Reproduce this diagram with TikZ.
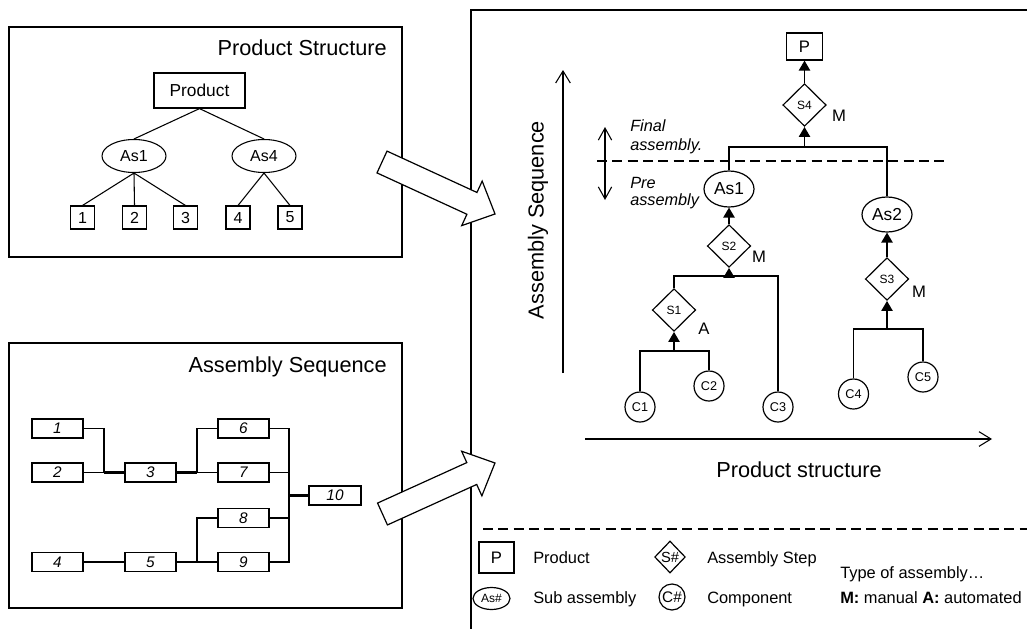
\documentclass[tikz,border=0pt]{standalone}
\usepackage{fontspec}
\setmainfont{Liberation Sans}
\usetikzlibrary{arrows.meta,shapes.geometric}
\begin{document}
\begin{tikzpicture}[x=0.75pt,y=-0.75pt,
  frame/.style={draw, line width=0.9pt},
  conn/.style={line width=0.8pt},
  thk/.style={line width=1.6pt},
  title/.style={inner sep=0pt, font=\fontsize{16.3}{19}\selectfont},
  pbox/.style={draw, line width=0.9pt, minimum width=68.25pt, minimum height=26.25pt, inner sep=0pt, font=\fontsize{13}{15}\selectfont},
  tell/.style={draw, ellipse, line width=0.8pt, minimum width=48pt, minimum height=24.75pt, inner sep=0pt, font=\fontsize{12}{14}\selectfont},
  tbox/.style={draw, line width=0.8pt, minimum width=18pt, minimum height=17.25pt, inner sep=0pt, font=\fontsize{12}{14}\selectfont},
  sbox/.style={draw, line width=0.9pt, minimum width=38.25pt, minimum height=14.25pt, inner sep=0pt, font=\itshape\fontsize{11.5}{13}\selectfont},
  prodbox/.style={draw, line width=0.9pt, minimum width=27pt, minimum height=20.25pt, inner sep=0pt, font=\fontsize{12.5}{14}\selectfont},
  stepd/.style={draw, diamond, line width=0.9pt, minimum width=32.5pt, minimum height=32pt, inner sep=0pt, font=\fontsize{9}{10}\selectfont},
  subell/.style={draw, ellipse, line width=0.9pt, minimum width=37.5pt, minimum height=27pt, inner sep=0pt, font=\fontsize{13}{15}\selectfont},
  comp/.style={draw, circle, line width=0.9pt, minimum size=22.5pt, inner sep=0pt, font=\fontsize{9.5}{11}\selectfont},
  lbl/.style={inner sep=0pt, font=\fontsize{12.5}{14}\selectfont},
  note/.style={inner sep=0pt, anchor=base west, font=\itshape\fontsize{12.2}{14}\selectfont},
  legtxt/.style={inner sep=0pt, anchor=base west, font=\fontsize{12.3}{14}\selectfont},
  tri/.style={-{Triangle[length=7.5pt,width=8.5pt]}, line width=1.1pt},
  axis/.style={-{Straight Barb[length=9pt,width=11pt]}, line width=0.8pt},
  bigarr/.style={draw, fill=white, line width=0.9pt, line join=miter},
  dsh/.style={line width=0.8pt, dash pattern=on 7.5pt off 4pt}
]
\useasboundingbox (0,0) rectangle (1027,628);
\clip (0,0) rectangle (1027,628);

% ---------------- Product Structure panel ----------------
\draw[frame] (9,27) rectangle (402,257);
\node[title, anchor=base east] (t1) at (387,55) {Product Structure};
\node[pbox] (prod) at (199.5,90.5) {Product};
\node[tell] (a1) at (134,156) {As1};
\node[tell] (a4) at (264,156) {As4};
\node[tbox] (p1) at (82.5,217.5) {1};
\node[tbox] (p2) at (134.5,217.5) {2};
\node[tbox] (p3) at (185.5,217.5) {3};
\node[tbox] (p4) at (238,217.5) {4};
\node[tbox] (p5) at (290,217.5) {5};
\draw[conn] (prod.south) -- (a1.north);
\draw[conn] (prod.south) -- (a4.north);
\draw[conn] (a1.south) -- (p1.north);
\draw[conn] (a1.south) -- (p2.north);
\draw[conn] (a1.south) -- (p3.north);
\draw[conn] (a4.south) -- (p4.north);
\draw[conn] (a4.south) -- (p5.north);

% ---------------- Assembly Sequence panel ----------------
\draw[frame] (9,343) rectangle (402,608);
\node[title, anchor=base east] (t2) at (387,372) {Assembly Sequence};
\node[sbox] (s1) at (57.5,428.5) {1};
\node[sbox] (s2) at (57.5,472.5) {2};
\node[sbox] (s4) at (57.5,562) {4};
\node[sbox] (s3) at (150.5,472.5) {3};
\node[sbox] (s5) at (150.5,562) {5};
\node[sbox] (s6) at (243.5,428.5) {6};
\node[sbox] (s7) at (243.5,472.5) {7};
\node[sbox] (s8) at (243.5,518) {8};
\node[sbox] (s9) at (243.5,562) {9};
\node[sbox, minimum width=39pt] (s10) at (335,495.5) {10};
\coordinate (j1) at (104,472.5);
\coordinate (j2) at (197,472.5);
\coordinate (j3) at (289,495.5);
\coordinate (j4) at (197,562);
\draw[conn] (s1.east) -| (j1);
\draw[conn] (s2.east) -- (j1);
\draw[thk] (j1) -- (s3.west);
\draw[thk] (s3.east) -- (j2);
\draw[conn] (j2) |- (s6.west);
\draw[conn] (j2) -- (s7.west);
\draw[conn] (s4.east) -- (s5.west);
\draw[thk] (s5.east) -- (j4);
\draw[conn] (j4) |- (s8.west);
\draw[conn] (j4) -- (s9.west);
\draw[conn] (s6.east) -| (j3);
\draw[conn] (s7.east) -| (j3);
\draw[conn] (s8.east) -| (j3);
\draw[conn] (s9.east) -| (j3);
\draw[thk] (j3) -- (s10.west);

% ---------------- right panel frame ----------------
\draw[frame] (1040,10) -- (471,10) -- (471,640);

% ---------------- big block arrows ----------------
\draw[bigarr, shift={(382,162)}, rotate=-24.7] (0,-12) -- (99,-12) -- (99,-24.5) -- (124.4,0) -- (99,24.5) -- (99,12) -- (0,12) -- cycle;
\draw[bigarr, shift={(382.5,514)}, rotate=24.4] (0,-12) -- (98,-12) -- (98,-24.5) -- (123.5,0) -- (98,24.5) -- (98,12) -- (0,12) -- cycle;

% ---------------- axes ----------------
\coordinate (vy0) at (563,373);
\coordinate (vy1) at (563,70);
\draw[axis] (vy0) -- (vy1);
\node[title, rotate=90] (ylab) at (538,220) {Assembly Sequence};
\coordinate (hx0) at (585,439);
\coordinate (hx1) at (992,439);
\draw[axis] (hx0) -- (hx1);
\node[title, anchor=base] (xlab) at (799,477) {Product structure};

% final / pre assembly
\coordinate (da0) at (605,127);
\coordinate (da1) at (605,200);
\draw[axis, {Straight Barb[length=9pt,width=10pt]}-{Straight Barb[length=9pt,width=10pt]}] (da0) -- (da1);
\draw[dsh] (597,161) -- (948,161);
\node[note] (fa1) at (630,131) {Final};
\node[note] (fa2) at (630,150) {assembly.};
\node[note] (pa1) at (630,188) {Pre};
\node[note] (pa2) at (630,205) {assembly};

% ---------------- assembly tree ----------------
\node[prodbox] (P) at (804.5,46.5) {P};
\node[stepd] (S4) at (804.5,105) {S4};
\node[lbl] (m4) at (839,116) {M};
\node[subell] (As1) at (729,189) {As1};
\node[subell, minimum height=26.25pt] (As2) at (887,214.5) {As2};
\node[stepd] (S2) at (729,246) {S2};
\node[lbl] (m2) at (759,257) {M};
\node[stepd] (S1) at (674,310) {S1};
\node[lbl] (aa1) at (704,329) {A};
\node[stepd] (S3) at (887,279) {S3};
\node[lbl] (m3) at (919,292) {M};
\node[comp] (C1) at (640,407) {C1};
\node[comp] (C2) at (709,386) {C2};
\node[comp] (C3) at (778,407) {C3};
\node[comp] (C4) at (853.5,394) {C4};
\node[comp] (C5) at (923,377) {C5};

\coordinate (b4) at (804.5,147);
\coordinate (b2) at (729,276);
\coordinate (b1) at (674,351);
\coordinate (b3) at (887,329);

\draw[conn] (As1.north) |- (b4) -| (As2.north);
\draw[tri] (b4) -- (S4.south);
\draw[tri] (S4.north) -- (P.south);
\draw[conn] (S1.north) |- (b2) -| (C3.north);
\draw[tri] (b2) -- (S2.south);
\draw[tri] (S2.north) -- (As1.south);
\draw[conn] (C1.north) |- (b1) -| (C2.north);
\draw[tri] (b1) -- (S1.south);
\draw[conn] (C4.north) |- (b3) -| (C5.north);
\draw[tri] (b3) -- (S3.south);
\draw[tri] (S3.north) -- (As2.south);

% ---------------- legend ----------------
\draw[dsh] (483,529) -- (1030,529);
\node[prodbox, minimum width=26.25pt, minimum height=23.25pt] (lP) at (496.5,557.5) {P};
\node[legtxt] (lPt) at (533,563) {Product};
\node[draw, ellipse, line width=0.9pt, minimum width=27.75pt, minimum height=16.5pt, inner sep=0pt, font=\fontsize{9}{10}\selectfont] (lA) at (491.5,598.5) {As\#};
\node[legtxt] (lAt) at (533,603) {Sub assembly};
\node[draw, diamond, line width=0.9pt, minimum width=23pt, minimum height=24pt, inner sep=0pt, label={[font=\fontsize{11}{12}\selectfont, inner sep=0pt]center:S\#}] (lS) at (670,557) {};
\node[legtxt] (lSt) at (707,563) {Assembly Step};
\node[draw, circle, line width=0.9pt, minimum size=19.5pt, inner sep=0pt, label={[font=\fontsize{11.5}{12}\selectfont, inner sep=0pt]center:C\#}] (lC) at (672,597) {};
\node[legtxt] (lCt) at (707,603) {Component};
\node[legtxt] (lty) at (840,578) {Type of assembly…};
\node[legtxt] (lma) at (840,603) {\textbf{M:} manual \textbf{A:} automated};
\end{tikzpicture}
\end{document}
